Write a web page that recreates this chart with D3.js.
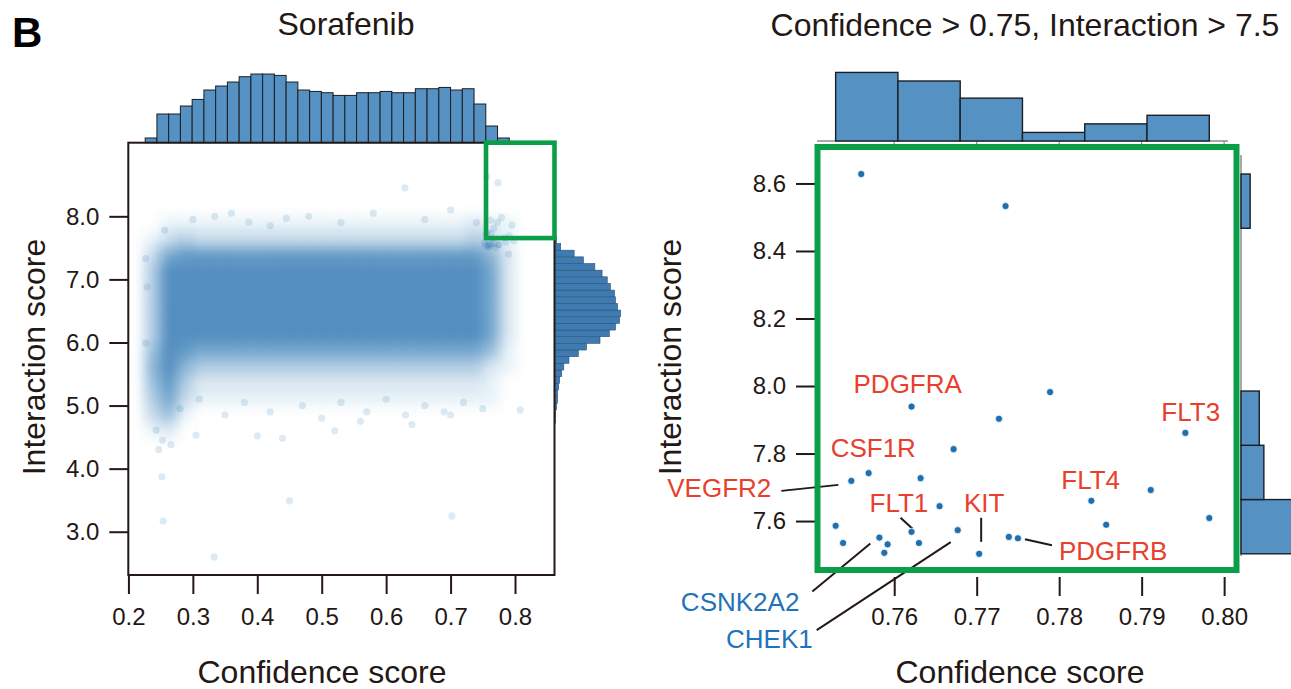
<!DOCTYPE html>
<html>
<head>
<meta charset="utf-8">
<script src="https://cdn.jsdelivr.net/npm/d3@7"></script>
<style>
  body { margin: 0; background: #fff; }
  svg { display: block; font-family: "Liberation Sans", Arial, Helvetica, sans-serif; }
</style>
</head>
<body>
<svg id="fig" width="1291" height="689"></svg>
<script>
// ---------- data ----------

// Left panel: marginal histogram of confidence score (equal-width bins)
const confHistStart = 0.226;
const confHistWidth = 0.01823;
const confHistCounts = [47, 287, 287, 367, 433, 527, 567, 607, 660, 687, 687, 673, 607, 527, 513,
  500, 473, 473, 500, 500, 513, 500, 500, 540, 540, 553, 527, 540, 387, 167, 47, 8];

// Left panel: marginal histogram of interaction score (equal-width bins, ascending)
const interHistStart = 4.72;
const interHistWidth = 0.1055;
const interHistCounts = [1, 1, 2, 3, 3, 4, 5, 7, 9, 14, 23, 31, 44, 53, 59, 63, 64, 61, 59, 58,
  54, 51, 46, 39, 28, 19, 6, 2];

// Left panel: point density of the cloud, 0 (empty) .. 9 (saturated)
// columns: confidence 0.200 .. 0.850 in steps of 0.025
// rows: interaction score, from 8.25 downwards in steps of 0.25
const gridConfStart = 0.2;
const gridConfStep = 0.025;
const gridInterTop = 8.25;
const gridInterStep = 0.25;
const densityRows = [
  "00000000000000000000000000",
  "00111111111111111111121100",
  "01343333333333333333343100",
  "03788888888888888888886200",
  "04999999999999999999997200",
  "04999999999999999999997200",
  "04999999999999999999997200",
  "04999999999999999999997200",
  "04999999999999999999997200",
  "05987777777777777777775100",
  "06964444444444444444442100",
  "05842222222222222222221000",
  "04731111111111111111111000",
  "03510000000000000000000000",
  "01200000000000000000000000",
  "00000000000000000000000000"
];

// Left panel: isolated points away from the dense cloud [confidence, interaction]
const sparsePoints = [
  [0.333, 2.60], [0.254, 3.17], [0.252, 3.87], [0.450, 3.49], [0.702, 3.25],
  [0.629, 8.45], [0.247, 4.30], [0.253, 4.45], [0.305, 4.53], [0.400, 4.52],
  [0.439, 4.48], [0.266, 4.38], [0.243, 4.61], [0.808, 4.93], [0.334, 8.00],
  [0.387, 7.91], [0.445, 7.97], [0.256, 7.78], [0.227, 7.33], [0.229, 6.88],
  [0.227, 5.99], [0.560, 4.75], [0.520, 4.60], [0.640, 4.70], [0.700, 4.85],
  [0.280, 4.95], [0.310, 5.10], [0.350, 4.85], [0.380, 5.05], [0.420, 4.90],
  [0.470, 5.00], [0.500, 4.80], [0.530, 5.05], [0.570, 4.90], [0.600, 5.10],
  [0.630, 4.85], [0.660, 5.00], [0.690, 4.90], [0.720, 5.05], [0.750, 4.95],
  [0.300, 7.95], [0.360, 8.05], [0.420, 7.85], [0.480, 8.00], [0.530, 7.90],
  [0.580, 8.05], [0.660, 7.95], [0.700, 8.10], [0.740, 7.90], [0.790, 7.40]
];

// Right panel: the 26 hits with confidence > 0.75 and interaction > 7.5
const hitConf = [0.7529, 0.7538, 0.7548, 0.7569, 0.7582, 0.7592, 0.7588, 0.7621, 0.7621, 0.7632,
  0.7630, 0.7655, 0.7672, 0.7677, 0.7703, 0.7727, 0.7739, 0.7750, 0.7789, 0.7839,
  0.7857, 0.7911, 0.7953, 0.7982, 0.7560, 0.7735];
const hitInter = [7.586, 7.535, 7.719, 7.742, 7.551, 7.531, 7.506, 7.939, 7.568, 7.727,
  7.535, 7.644, 7.813, 7.573, 7.503, 7.903, 7.553, 7.549, 7.982, 7.660,
  7.589, 7.692, 7.861, 7.609, 8.628, 8.533];

// Named hits: gene, index into the hit arrays, known target or off-target
const hitGenes = ["PDGFRA", "CSF1R", "FLT3", "FLT4", "VEGFR2", "FLT1", "KIT", "PDGFRB", "CSNK2A2", "CHEK1"];
const hitGeneIndex = [7, 3, 22, 19, 2, 8, 14, 17, 4, 13];
const hitGeneKnown = [true, true, true, true, true, true, true, true, false, false];

const leftXTicks = [0.2, 0.3, 0.4, 0.5, 0.6, 0.7, 0.8];
const leftYTicks = [3, 4, 5, 6, 7, 8];
const rightXTicks = [0.76, 0.77, 0.78, 0.79, 0.80];
const rightYTicks = [7.6, 7.8, 8.0, 8.2, 8.4, 8.6];

// ---------- styling ----------
const INK = "#231815";
const BAR = "#5591c3";
const BAR_EDGE = "#1b1f24";
const DOT = "#1f6fae";
const GREEN = "#0b9e48";
const RED = "#e8402d";
const BLUE = "#1f73ba";

// label placement, pixel offsets from the labelled point
const LABEL_LAYOUT = {
  PDGFRA:  { dx: -58,  dy: -14, anchor: "start" },
  CSF1R:   { dx: -38,  dy: -16, anchor: "start" },
  FLT3:    { dx: -24,  dy: -12, anchor: "start" },
  FLT4:    { dx: -30,  dy: -12, anchor: "start" },
  VEGFR2:  { dx: -80,  dy: 16,  anchor: "end",    line: [-70, 10, -13, 4] },
  FLT1:    { dx: -42,  dy: -20, anchor: "start",  line: [-11, -14, 1, -3] },
  KIT:     { dx: 5,    dy: -42, anchor: "middle", line: [2, -36, 2, -12] },
  PDGFRB:  { dx: 41,   dy: 22,  anchor: "start",  line: [7, 1, 34, 7] },
  CSNK2A2: { dx: -80,  dy: 73,  anchor: "end",    line: [-9, 6, -67, 54] },
  CHEK1:   { dx: -145, dy: 118, anchor: "end",    line: [-7, 12, -141, 100] }
};

const svg = d3.select("#fig");
const defs = svg.append("defs");
defs.append("filter").attr("id", "soft")
  .attr("x", "-5%").attr("y", "-5%").attr("width", "110%").attr("height", "110%")
  .append("feGaussianBlur").attr("stdDeviation", 6);

// ================= LEFT PANEL =================
const xL = d3.scaleLinear().domain([0.1998, 0.8613]).range([128.3, 554.5]);
const yL = d3.scaleLinear().domain([2.314, 9.167]).range([575, 142.7]);

defs.append("clipPath").attr("id", "clipL").append("rect")
  .attr("x", xL.range()[0]).attr("y", yL.range()[1])
  .attr("width", xL.range()[1] - xL.range()[0])
  .attr("height", yL.range()[0] - yL.range()[1]);

const cells = densityRows.flatMap((row, k) =>
  row.split("").map((ch, c) => ({
    x0: gridConfStart + c * gridConfStep,
    top: gridInterTop - k * gridInterStep,
    d: +ch
  }))
).filter(c => c.d > 0);

const cloudClip = svg.append("g").attr("clip-path", "url(#clipL)");
cloudClip.append("g").attr("filter", "url(#soft)")
  .selectAll("rect").data(cells).join("rect")
  .attr("x", d => xL(d.x0))
  .attr("y", d => yL(d.top))
  .attr("width", d => xL(d.x0 + gridConfStep) - xL(d.x0) + 0.5)
  .attr("height", d => yL(d.top - gridInterStep) - yL(d.top) + 0.5)
  .attr("fill", DOT)
  .attr("fill-opacity", d => d.d / 9 * 0.76);

const hits = hitConf.map((x, i) => ({ x, y: hitInter[i] }));

cloudClip.append("g").selectAll("circle")
  .data(sparsePoints.map(p => ({ x: p[0], y: p[1] })).concat(hits))
  .join("circle")
  .attr("cx", d => xL(d.x)).attr("cy", d => yL(d.y)).attr("r", 3.6)
  .attr("fill", DOT).attr("fill-opacity", 0.15);

// top marginal histogram (confidence)
const confBins = confHistCounts.map((n, i) => ({
  x0: confHistStart + i * confHistWidth,
  x1: confHistStart + (i + 1) * confHistWidth,
  n
}));
const hTopL = d3.scaleLinear().domain([0, d3.max(confHistCounts) * 1.05]).range([142.7, 70.6]);
svg.append("g").selectAll("rect").data(confBins).join("rect")
  .attr("x", d => xL(d.x0)).attr("width", d => xL(d.x1) - xL(d.x0))
  .attr("y", d => hTopL(d.n)).attr("height", d => hTopL(0) - hTopL(d.n))
  .attr("fill", BAR).attr("stroke", BAR_EDGE).attr("stroke-width", 1);

// right marginal histogram (interaction)
const interBins = interHistCounts.map((n, i) => ({
  y0: interHistStart + i * interHistWidth,
  y1: interHistStart + (i + 1) * interHistWidth,
  n
}));
const wSideL = d3.scaleLinear().domain([0, d3.max(interHistCounts) * 1.05]).range([554.5, 624]);
svg.append("g").selectAll("rect").data(interBins).join("rect")
  .attr("x", wSideL(0)).attr("width", d => wSideL(d.n) - wSideL(0))
  .attr("y", d => yL(d.y1)).attr("height", d => yL(d.y0) - yL(d.y1))
  .attr("fill", "#3f7bb0").attr("stroke", "#2a5478").attr("stroke-width", 0.6);

// frame
svg.append("rect")
  .attr("x", xL.range()[0]).attr("y", yL.range()[1])
  .attr("width", xL.range()[1] - xL.range()[0])
  .attr("height", yL.range()[0] - yL.range()[1])
  .attr("fill", "none").attr("stroke", INK).attr("stroke-width", 2);

// axes
function styleAxis(g) {
  g.select(".domain").remove();
  g.selectAll(".tick line").attr("stroke", INK).attr("stroke-width", 2);
  g.selectAll(".tick text").attr("fill", INK).attr("font-size", 24)
    .attr("font-family", '"Liberation Sans", Arial, Helvetica, sans-serif');
}

svg.append("g").attr("transform", `translate(0,${yL.range()[0]})`)
  .call(d3.axisBottom(xL).tickValues(leftXTicks).tickFormat(d3.format(".1f")).tickSize(19).tickPadding(14))
  .call(styleAxis);
svg.append("g").attr("transform", `translate(${xL.range()[0]},0)`)
  .call(d3.axisLeft(yL).tickValues(leftYTicks).tickFormat(d3.format(".1f")).tickSize(19).tickPadding(10))
  .call(styleAxis);

// green selection box (confidence > 0.75, interaction > 7.5)
svg.append("rect")
  .attr("x", xL(0.755)).attr("y", yL.range()[1])
  .attr("width", xL.range()[1] - xL(0.755))
  .attr("height", yL(7.655) - yL.range()[1])
  .attr("fill", "none").attr("stroke", GREEN).attr("stroke-width", 4.6);

// ================= RIGHT PANEL =================
const xR = d3.scaleLinear().domain([0.7507, 0.8015]).range([817.5, 1236.5]);
const yR = d3.scaleLinear().domain([7.455, 8.708]).range([570, 147]);

// marginal histograms via d3.bin
const cExt = d3.extent(hitConf);
const cW = (cExt[1] - cExt[0]) / 6;
const cBins = d3.bin().domain(cExt).thresholds(d3.range(1, 6).map(i => cExt[0] + i * cW))(hitConf);
const iExt = d3.extent(hitInter);
const iW = (iExt[1] - iExt[0]) / 7;
const iBins = d3.bin().domain(iExt).thresholds(d3.range(1, 7).map(i => iExt[0] + i * iW))(hitInter);

const hTopR = d3.scaleLinear().domain([0, d3.max(cBins, b => b.length) * 1.05]).range([141, 69]);
const wSideR = d3.scaleLinear().domain([0, d3.max(iBins, b => b.length) * 1.05]).range([1241, 1313]);

svg.append("line").attr("x1", 817).attr("x2", 1228).attr("y1", 141).attr("y2", 141)
  .attr("stroke", "#8c8c8c").attr("stroke-width", 1.5);
svg.append("g").selectAll("line").data(rightXTicks).join("line")
  .attr("x1", d => xR(d)).attr("x2", d => xR(d)).attr("y1", 141).attr("y2", 144)
  .attr("stroke", "#8c8c8c").attr("stroke-width", 1.2);
svg.append("line").attr("x1", 1241).attr("x2", 1241).attr("y1", 155).attr("y2", 556)
  .attr("stroke", "#8c8c8c").attr("stroke-width", 1.5);

svg.append("g").selectAll("rect").data(cBins.filter(b => b.length)).join("rect")
  .attr("x", d => xR(d.x0)).attr("width", d => xR(d.x1) - xR(d.x0))
  .attr("y", d => hTopR(d.length)).attr("height", d => hTopR(0) - hTopR(d.length))
  .attr("fill", BAR).attr("stroke", BAR_EDGE).attr("stroke-width", 1.4);

svg.append("g").selectAll("rect").data(iBins.filter(b => b.length)).join("rect")
  .attr("x", wSideR(0)).attr("width", d => wSideR(d.length) - wSideR(0))
  .attr("y", d => yR(d.x1)).attr("height", d => yR(d.x0) - yR(d.x1))
  .attr("fill", BAR).attr("stroke", BAR_EDGE).attr("stroke-width", 1.4);

// axes
svg.append("g").attr("transform", "translate(0,577)")
  .call(d3.axisBottom(xR).tickValues(rightXTicks).tickFormat(d3.format(".2f")).tickSize(19).tickPadding(12))
  .call(styleAxis);
svg.append("g").attr("transform", "translate(815,0)")
  .call(d3.axisLeft(yR).tickValues(rightYTicks).tickFormat(d3.format(".1f")).tickSize(19).tickPadding(10))
  .call(styleAxis);

// leader lines and labels
const named = hitGenes.map((g, k) => ({
  gene: g, known: hitGeneKnown[k],
  px: xR(hitConf[hitGeneIndex[k]]), py: yR(hitInter[hitGeneIndex[k]]),
  ...LABEL_LAYOUT[g]
}));

svg.append("g").selectAll("line").data(named.filter(d => d.line)).join("line")
  .attr("x1", d => d.px + d.line[0]).attr("y1", d => d.py + d.line[1])
  .attr("x2", d => d.px + d.line[2]).attr("y2", d => d.py + d.line[3])
  .attr("stroke", INK).attr("stroke-width", 2);

// points
svg.append("g").selectAll("circle").data(hits).join("circle")
  .attr("cx", d => xR(d.x)).attr("cy", d => yR(d.y)).attr("r", 3.6)
  .attr("fill", DOT).attr("stroke", "#fff").attr("stroke-width", 0.8);

svg.append("g").selectAll("text").data(named).join("text")
  .attr("x", d => d.px + d.dx).attr("y", d => d.py + d.dy)
  .attr("text-anchor", d => d.anchor)
  .attr("font-size", 26)
  .attr("fill", d => d.known ? RED : BLUE)
  .text(d => d.gene);

// green frame = the zoomed window
svg.append("rect")
  .attr("x", xR.range()[0]).attr("y", yR.range()[1])
  .attr("width", xR.range()[1] - xR.range()[0])
  .attr("height", yR.range()[0] - yR.range()[1])
  .attr("fill", "none").attr("stroke", GREEN).attr("stroke-width", 6);

// ================= TEXT =================
svg.append("text").attr("x", 12).attr("y", 47)
  .attr("font-size", 42).attr("font-weight", "bold").attr("fill", "#000").text("B");

svg.append("text").attr("x", 346).attr("y", 35).attr("text-anchor", "middle")
  .attr("font-size", 32).attr("fill", INK).text("Sorafenib");
svg.append("text").attr("x", 1025).attr("y", 36).attr("text-anchor", "middle")
  .attr("font-size", 32).attr("fill", INK).text("Confidence > 0.75, Interaction > 7.5");

svg.append("text").attr("x", 322).attr("y", 683).attr("text-anchor", "middle")
  .attr("font-size", 32).attr("fill", INK).text("Confidence score");
svg.append("text").attr("x", 1020).attr("y", 683).attr("text-anchor", "middle")
  .attr("font-size", 32).attr("fill", INK).text("Confidence score");

svg.append("text").attr("transform", "translate(45,357) rotate(-90)").attr("text-anchor", "middle")
  .attr("font-size", 32).attr("fill", INK).text("Interaction score");
svg.append("text").attr("transform", "translate(681,357) rotate(-90)").attr("text-anchor", "middle")
  .attr("font-size", 32).attr("fill", INK).text("Interaction score");
</script>
</body>
</html>
